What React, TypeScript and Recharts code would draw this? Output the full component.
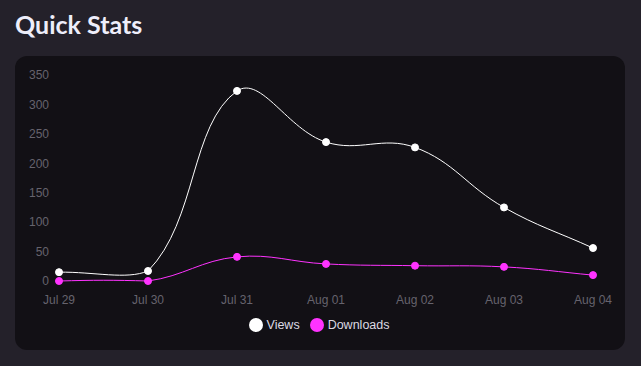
import React from 'react';
import { LineChart, Line, XAxis, YAxis, Legend } from 'recharts';

const dates = ['Jul 29', 'Jul 30', 'Jul 31', 'Aug 01', 'Aug 02', 'Aug 03', 'Aug 04'];
const views = [15, 17, 323, 236, 227, 125, 56];
const downloads = [0, 0, 41, 29, 26, 24, 10];
const yTicks = [0, 50, 100, 150, 200, 250, 300, 350];

const data = dates.map((d, i) => ({ date: d, Views: views[i], Downloads: downloads[i] }));

const CHART_W = 610;
const CHART_H = 294;
const MARGIN = { top: 19, right: 32, left: 0, bottom: 17 };
const Y_AXIS_W = 44;
// plot area used to cap bezier control points (like Chart.js capBezierPoints)
const PLOT_TOP = MARGIN.top;
const PLOT_BOTTOM = 224;
const PLOT_LEFT = Y_AXIS_W;
const PLOT_RIGHT = CHART_W - MARGIN.right;

const clamp = (v: number, lo: number, hi: number) => Math.min(Math.max(v, lo), hi);

// Bezier spline with tension (same construction as Chart.js line tension)
const tensionCurve = (tension: number) => (context: any) => {
  let pts: [number, number][] = [];
  return {
    areaStart() {},
    areaEnd() {},
    lineStart() { pts = []; },
    point(x: number, y: number) { pts.push([+x, +y]); },
    lineEnd() {
      const n = pts.length;
      if (!n) return;
      const cps: { px: number; py: number; nx: number; ny: number }[] = [];
      for (let i = 0; i < n; i++) {
        const p0 = pts[i - 1] || pts[i];
        const p1 = pts[i];
        const p2 = pts[i + 1] || pts[i];
        const d01 = Math.hypot(p1[0] - p0[0], p1[1] - p0[1]);
        const d12 = Math.hypot(p2[0] - p1[0], p2[1] - p1[1]);
        let s01 = d01 / (d01 + d12);
        let s12 = d12 / (d01 + d12);
        if (!isFinite(s01)) s01 = 0;
        if (!isFinite(s12)) s12 = 0;
        const fa = tension * s01;
        const fb = tension * s12;
        cps.push({
          px: clamp(p1[0] - fa * (p2[0] - p0[0]), PLOT_LEFT, PLOT_RIGHT),
          py: clamp(p1[1] - fa * (p2[1] - p0[1]), PLOT_TOP, PLOT_BOTTOM),
          nx: clamp(p1[0] + fb * (p2[0] - p0[0]), PLOT_LEFT, PLOT_RIGHT),
          ny: clamp(p1[1] + fb * (p2[1] - p0[1]), PLOT_TOP, PLOT_BOTTOM),
        });
      }
      context.moveTo(pts[0][0], pts[0][1]);
      for (let i = 1; i < n; i++) {
        context.bezierCurveTo(cps[i - 1].nx, cps[i - 1].ny, cps[i].px, cps[i].py, pts[i][0], pts[i][1]);
      }
    },
  };
};

const curve = tensionCurve(0.4);
const order: Record<string, number> = { Views: 0, Downloads: 1 };

export default function App() {
  return (
    <div style={{ position: 'fixed', left: 0, top: 0, width: 641, height: 366, background: '#24212a', overflow: 'hidden' }}>
      <div style={{ position: 'absolute', left: 15, top: 9, fontFamily: 'Lato', fontWeight: 700, fontSize: 25, color: '#eeeefa', lineHeight: '30px' }}>
        Quick Stats
      </div>
      <div style={{ position: 'absolute', left: 15, top: 56, width: CHART_W, height: CHART_H, background: '#121015', borderRadius: 12 }}>
        <LineChart width={CHART_W} height={CHART_H} data={data} margin={MARGIN}>
          <XAxis dataKey="date" axisLine={false} tickLine={false} tick={{ fill: '#66636d', fontSize: 12, fontFamily: 'Liberation Sans' }} tickMargin={8} height={34} interval={0} />
          <YAxis domain={[0, 350]} ticks={yTicks} axisLine={false} tickLine={false} width={Y_AXIS_W} tickMargin={4} tick={{ fill: '#66636d', fontSize: 12, fontFamily: 'Liberation Sans' }} />
          <Legend iconType="circle" iconSize={14} wrapperStyle={{ left: 4, width: CHART_W }} itemSorter={(item: any) => order[item.dataKey] ?? 0} formatter={(v: string) => <span style={{ color: '#dcdae2', fontSize: 12.5, fontFamily: 'Liberation Sans' }}>{v}</span>} />
          <Line type={curve as any} dataKey="Views" stroke="#ffffff" strokeWidth={1} dot={{ r: 3.5, fill: '#ffffff', stroke: '#ffffff', strokeWidth: 1 }} isAnimationActive={false} />
          <Line type={curve as any} dataKey="Downloads" stroke="#ff33ff" strokeWidth={1} dot={{ r: 3.5, fill: '#ff33ff', stroke: '#ff33ff', strokeWidth: 1 }} isAnimationActive={false} />
        </LineChart>
      </div>
    </div>
  );
}
